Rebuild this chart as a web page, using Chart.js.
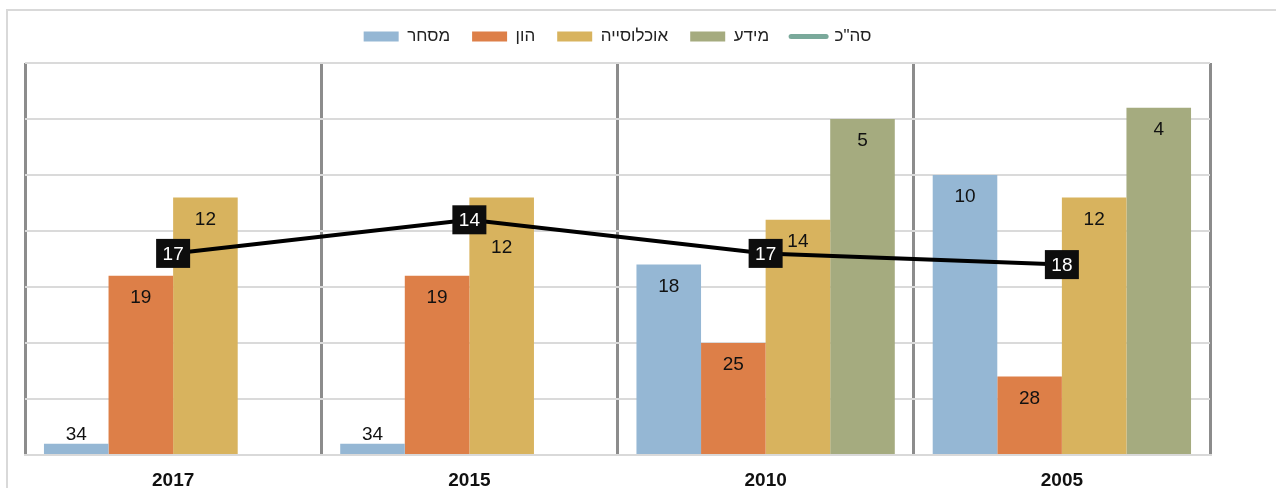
<!DOCTYPE html>
<html>
<head>
<meta charset="utf-8">
<script src="https://cdn.jsdelivr.net/npm/chart.js@4.4.1/dist/chart.umd.min.js"></script>
<style>
  body { margin: 0; background: #fff; overflow: hidden; }
  #frame { position: absolute; left: 6px; top: 9px; width: 1300px; height: 520px; border: 2px solid #d9d9d9; }
  #rankChart { position: absolute; left: 0; top: 0; }
</style>
</head>
<body>
<div id="frame"></div>
<canvas id="rankChart" width="1276" height="488"></canvas>
<script>
// ranks per year (lower rank = taller bar, axis is reversed)
var years = ['2017', '2015', '2010', '2005'];
var tradeRank = [34, 34, 18, 10];
var capitalRank = [19, 19, 25, 28];
var populationRank = [12, 12, 14, 12];
var infoRank = [null, null, 5, 4];
var totalRank = [17, 14, 17, 18];
var seriesNames = ['מסחר', 'הון', 'אוכלוסייה', 'מידע', 'סה"כ'];
var seriesColors = ['#95b7d4', '#dd7f48', '#d8b35e', '#a5ab7f', '#000000'];
var totalLegendColor = '#7aa99b';
var rankMin = 0, rankMax = 35, rankStep = 5;

var fontFamily = "'Liberation Sans', Arial, sans-serif";

var labels_plug = {
  id: 'rankLabels',
  afterDatasetsDraw: function(chart) {
    var ctx = chart.ctx;
    ctx.save();
    ctx.font = '19px ' + fontFamily;
    ctx.textAlign = 'center';
    ctx.textBaseline = 'middle';

    //collect the total boxes first so bar labels can step out of their way
    var boxes = [];
    chart.data.datasets.forEach(function(ds, i) {
      if (ds.type !== 'line') return;
      chart.getDatasetMeta(i).data.forEach(function(pt, j) {
        boxes.push({ x: pt.x, y: pt.y, text: ds.data[j] });
      });
    });

    //bar values, inside the top end unless the bar is too short
    chart.data.datasets.forEach(function(ds, i) {
      if (ds.type === 'line') return;
      var meta = chart.getDatasetMeta(i);
      meta.data.forEach(function(bar, j) {
        if (ds.data[j] == null) return;
        var h = bar.base - bar.y;
        var ty = h > 36 ? bar.y + 22 : bar.y - 9;
        boxes.forEach(function(b) {
          if (Math.abs(b.x - bar.x) < 40 && Math.abs(b.y - ty) < 8) ty += 28;
        });
        ctx.fillStyle = '#111';
        ctx.fillText(ds.data[j], bar.x, ty);
      });
    });

    //total rank in black boxes on the line
    boxes.forEach(function(b) {
      ctx.fillStyle = '#0d0d0d';
      ctx.fillRect(b.x - 17, b.y - 14.5, 34, 29);
      ctx.fillStyle = '#ffffff';
      ctx.fillText(b.text, b.x, b.y + 1);
    });
    ctx.restore();
  }
};

// fixed legend height so the plot starts where it should
var legendHeight_plug = {
  id: 'legendHeight',
  beforeInit: function(chart) {
    var fit = chart.legend.fit;
    chart.legend.fit = function() {
      fit.bind(chart.legend)();
      this.height = 57;
    };
  }
};

var barSets = [tradeRank, capitalRank, populationRank, infoRank].map(function(values, i) {
  return {
    type: 'bar',
    label: seriesNames[i],
    data: values,
    backgroundColor: seriesColors[i],
    borderWidth: 0,
    base: rankMax,
    order: 1
  };
});

var ctx = document.getElementById('rankChart').getContext('2d');
var rankChart = new Chart(ctx, {
  plugins: [labels_plug, legendHeight_plug],
  data: {
    labels: years,
    datasets: barSets.concat([{
      type: 'line',
      label: seriesNames[4],
      data: totalRank,
      borderColor: seriesColors[4],
      borderWidth: 4,
      pointRadius: 0,
      tension: 0,
      order: 0
    }])
  },
  options: {
    responsive: false,
    animation: false,
    events: [],
    layout: { padding: { left: 25, right: 66, top: 6, bottom: 0 } },
    datasets: {
      bar: { categoryPercentage: 0.872, barPercentage: 1 }
    },
    scales: {
      x: {
        offset: true,
        grid: { offset: true, color: '#8c8c8c', lineWidth: 3, drawTicks: false },
        border: { display: true, color: '#d9d9d9', width: 2 },
        ticks: {
          padding: 14,
          color: '#111',
          font: { family: fontFamily, size: 19, weight: 'bold' }
        },
        afterFit: function(s) { s.height = 33; }
      },
      y: {
        reverse: true,
        min: rankMin,
        max: rankMax,
        grid: { color: '#dadada', lineWidth: 2, drawTicks: false },
        border: { display: false },
        ticks: { display: false, stepSize: rankStep },
        afterFit: function(s) { s.width = 0; }
      }
    },
    plugins: {
      tooltip: { enabled: false },
      legend: {
        position: 'top',
        labels: {
          usePointStyle: true,
          pointStyleWidth: 35,
          boxHeight: 10,
          padding: 22,
          color: '#222',
          font: { family: fontFamily, size: 17 },
          generateLabels: function(chart) {
            return chart.data.datasets.map(function(ds, i) {
              var isLine = ds.type === 'line';
              return {
                text: ds.label,
                fillStyle: isLine ? totalLegendColor : ds.backgroundColor,
                strokeStyle: isLine ? totalLegendColor : ds.backgroundColor,
                lineWidth: isLine ? 5 : 0,
                lineCap: 'round',
                pointStyle: isLine ? 'line' : 'rect',
                hidden: false,
                datasetIndex: i,
                fontColor: '#222'
              };
            });
          }
        }
      }
    }
  }
});
</script>
</body>
</html>
